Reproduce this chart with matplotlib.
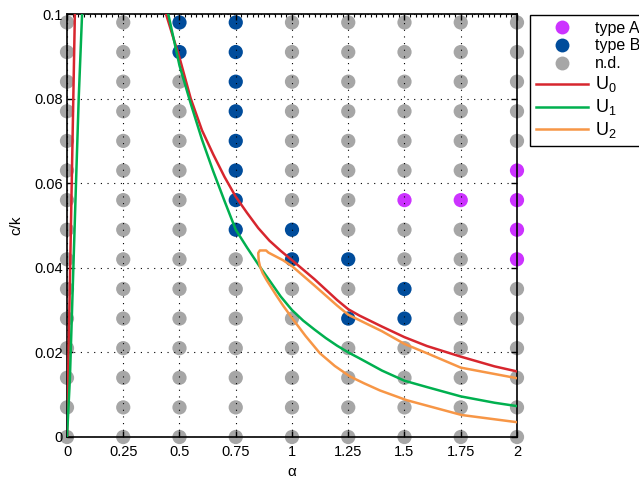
"""Figure: alpha vs c/k regime map with stability curves U0, U1, U2."""
import matplotlib
matplotlib.use("Agg")
import matplotlib.pyplot as plt
from matplotlib.lines import Line2D
from matplotlib.ticker import MultipleLocator

plt.rcParams["font.family"] = ["Liberation Sans", "DejaVu Sans"]
plt.rcParams["mathtext.fontset"] = "custom"
plt.rcParams["mathtext.rm"] = "Liberation Sans"
plt.rcParams["mathtext.it"] = "Liberation Sans"

# grid of simulated points
alpha_vals = [0, 0.25, 0.5, 0.75, 1, 1.25, 1.5, 1.75, 2]
ck_vals = [0.098, 0.091, 0.084, 0.077, 0.070, 0.063, 0.056, 0.049,
           0.042, 0.035, 0.028, 0.021, 0.014, 0.007, 0.0]
# one row per ck value (top to bottom), one char per alpha: A / B / . (n.d.)
status = [
    "..BB.....",
    "..BB.....",
    "...B.....",
    "...B.....",
    "...B.....",
    "...B....A",
    "...B..AAA",
    "...BB...A",
    "....BB..A",
    "......B..",
    ".....BB..",
    ".........",
    ".........",
    ".........",
    ".........",
]

# U0 (two branches)
u0_left_a = [0.0, 0.035]
u0_left_c = [0.0, 0.1]
u0_a = [0.44, 0.47, 0.50, 0.55, 0.60, 0.65, 0.70, 0.75, 0.80, 0.85, 0.90,
        0.95, 1.00, 1.10, 1.20, 1.25, 1.30, 1.40, 1.50, 1.60, 1.75, 1.90, 2.00]
u0_c = [0.1, 0.0948, 0.0897, 0.0800, 0.0725, 0.0668, 0.0615, 0.0568, 0.0530,
        0.0494, 0.0464, 0.0440, 0.0418, 0.0373, 0.0324, 0.0302, 0.0287,
        0.0261, 0.0236, 0.0215, 0.0190, 0.0167, 0.0155]

# U1 (two branches)
u1_left_a = [0.0, 0.013, 0.04, 0.052, 0.067]
u1_left_c = [0.0, 0.014, 0.06, 0.08, 0.1]
u1_a = [0.45, 0.50, 0.55, 0.60, 0.65, 0.70, 0.75, 0.80, 0.85, 0.90, 0.95,
        1.00, 1.05, 1.10, 1.15, 1.20, 1.25, 1.30, 1.40, 1.50, 1.60, 1.75,
        1.90, 2.00]
u1_c = [0.1, 0.0878, 0.0788, 0.0703, 0.0628, 0.0558, 0.0490, 0.0448, 0.0408,
        0.0370, 0.0332, 0.0300, 0.0275, 0.0254, 0.0234, 0.0216, 0.0200,
        0.0186, 0.0157, 0.0133, 0.0118, 0.0096, 0.0081, 0.0073]

# U2 (closed loop: upper branch back to the tip, then lower branch)
u2_a = [2.0, 1.75, 1.60, 1.50, 1.40, 1.30, 1.25, 1.20, 1.10, 1.00, 0.96,
        0.895, 0.885, 0.857, 0.850, 0.852, 0.858, 0.870, 0.887, 0.93, 0.96,
        1.006, 1.06, 1.124, 1.19, 1.258, 1.32, 1.391, 1.51, 1.754, 2.0]
u2_c = [0.0139, 0.0164, 0.0198, 0.0220, 0.0250, 0.0276, 0.0289, 0.0311,
        0.0358, 0.0404, 0.0418, 0.0436, 0.0441, 0.0441, 0.0435, 0.0417,
        0.0403, 0.0387, 0.0371, 0.0335, 0.0311, 0.0277, 0.0239, 0.0198,
        0.0168, 0.0143, 0.0127, 0.0110, 0.0087, 0.0052, 0.0035]

C_A = "#cc33ff"
C_B = "#004c9b"
C_ND = "#a6a6a6"
C_U0 = "#d7262e"
C_U1 = "#00b04f"
C_U2 = "#f79646"


def main():
    fig = plt.figure(figsize=(6.39, 4.78), dpi=100)
    ax = fig.add_axes([67 / 639, 41 / 478, 450 / 639, 423 / 478])

    colors = {"A": C_A, "B": C_B, ".": C_ND}
    for ck, row in zip(ck_vals, status):
        for a, s in zip(alpha_vals, row):
            ax.scatter(a, ck, s=105, color=colors[s], edgecolors="none",
                       zorder=1, clip_on=False)

    lw = 1.8
    ax.plot(u0_left_a, u0_left_c, color=C_U0, lw=lw, zorder=3)
    ax.plot(u0_a, u0_c, color=C_U0, lw=lw, zorder=3)
    ax.plot(u1_left_a, u1_left_c, color=C_U1, lw=lw, zorder=3)
    ax.plot(u1_a, u1_c, color=C_U1, lw=lw, zorder=3)
    ax.plot(u2_a, u2_c, color=C_U2, lw=lw, zorder=3)

    ax.set_xlim(0, 2)
    ax.set_ylim(0, 0.1)
    ax.set_xticks(alpha_vals)
    ax.set_xticklabels(["0", "0.25", "0.5", "0.75", "1", "1.25", "1.5", "1.75", "2"])
    ax.set_yticks([0, 0.02, 0.04, 0.06, 0.08, 0.1])
    ax.set_yticklabels(["0", "0.02", "0.04", "0.06", "0.08", "0.1"])
    ax.xaxis.set_minor_locator(MultipleLocator(0.025))
    ax.tick_params(which="major", direction="in", top=True, right=True,
                   length=4, width=1, labelsize=10.5)
    ax.tick_params(axis="x", which="major", pad=6)
    ax.tick_params(axis="y", which="major", pad=3)
    ax.tick_params(which="minor", direction="in", bottom=False, top=True,
                   left=False, right=False, length=2, width=0.8)
    for sp in ax.spines.values():
        sp.set_linewidth(1.2)

    ax.set_axisbelow(False)
    ax.grid(True, which="major", color="black", lw=0.8, ls=(0, (1, 5)))

    ax.set_xlabel("α", fontsize=11, labelpad=4)
    ax.set_ylabel("c/k", fontsize=11, labelpad=8)

    handles = [
        Line2D([], [], ls="none", marker="o", ms=10, mfc=C_A, mec="none"),
        Line2D([], [], ls="none", marker="o", ms=10, mfc=C_B, mec="none"),
        Line2D([], [], ls="none", marker="o", ms=10, mfc=C_ND, mec="none"),
        Line2D([], [], color=C_U0, lw=lw),
        Line2D([], [], color=C_U1, lw=lw),
        Line2D([], [], color=C_U2, lw=lw),
    ]
    labels = ["type A", "type B", "n.d.",
              r"$\mathregular{U_0}$", r"$\mathregular{U_1}$", r"$\mathregular{U_2}$"]
    leg = fig.legend(handles, labels, loc="upper left",
                     bbox_to_anchor=(530 / 639, 1 - 15 / 478),
                     fontsize=11.5, frameon=True, fancybox=False,
                     edgecolor="black", framealpha=1, handlelength=3.3,
                     handletextpad=0.4, labelspacing=0.18, borderpad=0.35,
                     borderaxespad=0)
    for t in leg.get_texts()[3:]:
        t.set_fontsize(13)
    leg.get_frame().set_linewidth(1.0)

    fig.savefig("out.png", dpi=100)


if __name__ == "__main__":
    main()
